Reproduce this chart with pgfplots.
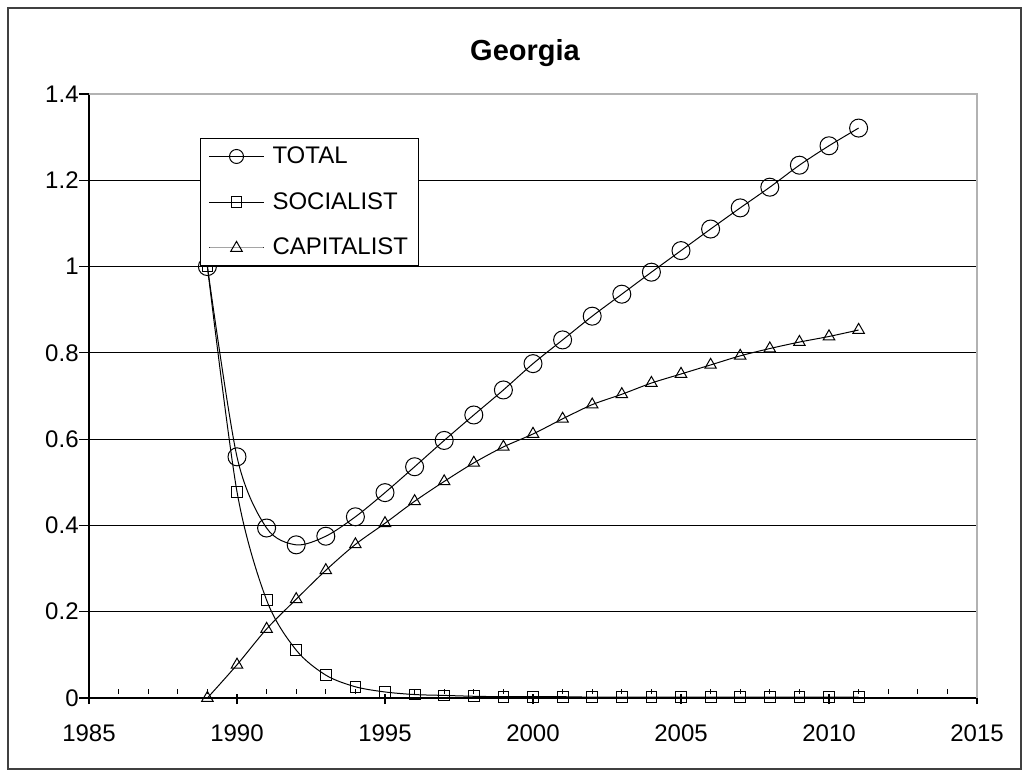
\documentclass[border=0pt]{standalone}
\usepackage{fontspec}
\setmainfont{Liberation Sans}
\usepackage{pgfplots}
\pgfplotsset{compat=1.18}

\begin{document}
\begin{tikzpicture}[x=1pt,y=1pt]
\begin{axis}[
    name=ax,
    at={(0,0)}, anchor=south west,
    scale only axis, width=444pt, height=302pt,
    xmin=1985, xmax=2015, ymin=0, ymax=1.4,
    xtick={1985,1990,1995,2000,2005,2010,2015},
    ytick={0,0.2,0.4,0.6,0.8,1,1.2,1.4},
    minor x tick num=4,
    axis x line*=bottom, axis y line*=left,
    axis line style={black, line width=0.6pt},
    tick align=outside,
    major tick length=5pt, minor tick length=2.5pt,
    tick style={black, line width=0.6pt},
    xtick style={yshift=2pt},
    minor x tick style={yshift=2.5pt},
    ymajorgrids, major grid style={black, line width=0.6pt},
    /pgf/number format/1000 sep={},
    /pgf/number format/assume math mode=true,
    tick label style={font=\fontsize{12}{14}\selectfont},
    xticklabel style={anchor=base, yshift=-16.5pt},
    yticklabel style={anchor=east, inner sep=0pt},
    legend style={at={(0.125,0.927)}, anchor=north west, draw=black,
        line width=0.5pt, fill=white, font=\fontsize{12}{14}\selectfont,
        inner xsep=4pt, inner ysep=3pt, row sep=11pt, column sep=3pt,
        nodes={inner sep=1pt}},
    legend cell align=left,
    legend image code/.code={\draw[mark repeat=2,mark phase=2,#1]
        plot coordinates {(0pt,0pt) (13.75pt,0pt) (27.5pt,0pt)};},
    every axis plot/.append style={black, line width=0.5pt, smooth, tension=0.5},
]
\addplot[mark=o, mark size=4.5pt, legend image post style={mark size=3.5pt}] coordinates {
(1989,1.0) (1990,0.559) (1991,0.394) (1992,0.355) (1993,0.375) (1994,0.42)
(1995,0.476) (1996,0.536) (1997,0.597) (1998,0.656) (1999,0.714) (2000,0.775)
(2001,0.830) (2002,0.885) (2003,0.936) (2004,0.987) (2005,1.037) (2006,1.087)
(2007,1.136) (2008,1.184) (2009,1.235) (2010,1.280) (2011,1.321)
};
\addlegendentry{TOTAL}
\addplot[mark=square, mark size=2.7pt] coordinates {
(1989,1.0) (1990,0.478) (1991,0.227) (1992,0.111) (1993,0.053) (1994,0.026)
(1995,0.014) (1996,0.008) (1997,0.006) (1998,0.004) (1999,0.003) (2000,0.003)
(2001,0.003) (2002,0.002) (2003,0.002) (2004,0.002) (2005,0.002) (2006,0.002)
(2007,0.002) (2008,0.002) (2009,0.002) (2010,0.002) (2011,0.002)
};
\addlegendentry{SOCIALIST}
\addplot[mark=triangle, mark size=3.3pt] coordinates {
(1989,0.0) (1990,0.077) (1991,0.16) (1992,0.229) (1993,0.296) (1994,0.356)
(1995,0.405) (1996,0.456) (1997,0.502) (1998,0.545) (1999,0.582) (2000,0.612)
(2001,0.647) (2002,0.680) (2003,0.704) (2004,0.730) (2005,0.751) (2006,0.772)
(2007,0.793) (2008,0.810) (2009,0.825) (2010,0.838) (2011,0.853)
};
\addlegendentry{CAPITALIST}
\end{axis}
\draw[gray!60, line width=0.6pt] (ax.north west) -- (ax.north east) -- (ax.south east);
\node[anchor=base, font=\bfseries\fontsize{14.5}{17}\selectfont] at (218,318.5) {Georgia};
\pgfresetboundingbox
\path[use as bounding box] (-44.5,-39) rectangle (469,349);
\draw[black!75, line width=1pt] (-40.5,-35.5) rectangle (466,345);
\end{tikzpicture}
\end{document}
